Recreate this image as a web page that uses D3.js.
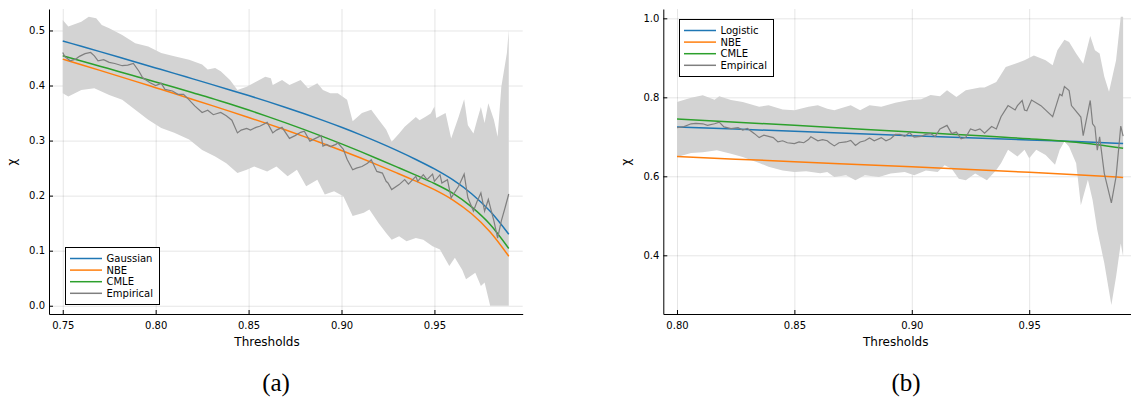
<!DOCTYPE html>
<html>
<head>
<meta charset="utf-8">
<script src="https://cdn.jsdelivr.net/npm/d3@7"></script>
<style>
  body { margin: 0; background: #fff; }
  svg { display: block; font-family: "DejaVu Sans", sans-serif; }
</style>
</head>
<body>
<svg id="chart" width="1131" height="401"></svg>
<script>
// ---- panel (a): Gaussian / NBE / CMLE vs empirical chi ----
const thrA   = [0.75,0.76,0.77,0.78,0.79,0.80,0.81,0.82,0.83,0.84,0.85,0.86,0.87,0.88,0.89,0.90,0.91,0.92,0.93,0.94,0.95,0.96,0.97,0.98,0.99];
const gaussA = [.4810,.4713,.4616,.4518,.4419,.4320,.4221,.4121,.4021,.3920,.3818,.3712,.3602,.3487,.3367,.3241,.3108,.2967,.2817,.2657,.2485,.2285,.2035,.1715,.1300];
const nbeA   = [.4480,.4378,.4275,.4171,.4066,.3960,.3854,.3747,.3639,.3530,.3420,.3308,.3192,.3072,.2948,.2820,.2687,.2549,.2408,.2263,.2110,.1920,.1670,.1340,.0900];
const cmleA  = [.4540,.4446,.4351,.4256,.4160,.4064,.3967,.3869,.3770,.3664,.3554,.3440,.3322,.3199,.3072,.2940,.2803,.2662,.2518,.2372,.2220,.2040,.1795,.1475,.1040];

const empTA = [.750,.751,.754,.757,.759,.762,.765,.767,.769,.772,.775,.778,.782,.785,.788,.791,.793,.797,.800,.803,.805,.809,.812,.815,.818,.821,.825,.828,.831,.835,.838,.841,.844,.846,.849,.851,.854,.856,.860,.863,.865,.868,.872,.875,.878,.880,.883,.886,.889,.890,.892,.894,.897,.898,.901,.903,.906,.908,.911,.914,.916,.919,.922,.924,.925,.927,.931,.934,.936,.940,.941,.944,.946,.949,.950,.953,.954,.957,.959,.963,.966,.968,.971,.973,.975,.977,.979,.982,.984,.986,.988,.990];
const empVA = [.460,.453,.445,.448,.453,.458,.460,.454,.445,.447,.442,.440,.436,.437,.440,.426,.414,.405,.400,.404,.393,.390,.384,.384,.374,.363,.351,.355,.347,.351,.345,.337,.314,.319,.322,.319,.324,.326,.333,.314,.319,.324,.304,.309,.315,.317,.299,.304,.309,.290,.293,.289,.293,.296,.284,.266,.247,.250,.253,.259,.265,.244,.241,.226,.223,.211,.220,.229,.221,.235,.226,.238,.229,.239,.226,.238,.223,.229,.196,.217,.239,.196,.172,.190,.205,.172,.193,.154,.123,.154,.178,.203];

const upTA = [.750,.753,.760,.764,.768,.771,.775,.782,.789,.796,.803,.810,.818,.825,.828,.832,.835,.840,.844,.849,.854,.859,.862,.863,.868,.872,.878,.882,.887,.890,.894,.898,.903,.906,.911,.916,.920,.924,.927,.931,.934,.940,.942,.945,.948,.950,.951,.956,.959,.963,.966,.968,.971,.973,.975,.977,.979,.982,.984,.986,.989,.990];
const upVA = [.519,.507,.516,.525,.522,.510,.504,.492,.477,.471,.459,.453,.447,.438,.429,.432,.426,.410,.392,.398,.407,.416,.413,.401,.410,.401,.410,.395,.404,.392,.386,.386,.374,.335,.350,.356,.338,.320,.298,.313,.325,.343,.337,.343,.349,.362,.341,.350,.304,.343,.375,.328,.313,.338,.361,.332,.368,.338,.307,.398,.459,.501];
const loTA = [.750,.753,.760,.767,.775,.782,.789,.796,.803,.810,.818,.825,.832,.838,.844,.849,.853,.860,.865,.871,.876,.881,.887,.891,.896,.901,.906,.912,.915,.920,.924,.927,.931,.935,.940,.944,.949,.953,.958,.961,.965,.967,.972,.975,.977,.980,.990];
const loVA = [.386,.380,.392,.395,.383,.374,.356,.338,.323,.314,.302,.283,.271,.259,.241,.247,.253,.244,.253,.235,.247,.217,.229,.202,.208,.199,.163,.169,.175,.150,.132,.120,.126,.117,.123,.120,.108,.102,.072,.087,.065,.048,.060,.036,.042,.000,.000];

// ---- panel (b): Logistic / NBE / CMLE vs empirical chi ----
const thrB   = [0.80,0.85,0.90,0.95,0.97,0.99];
const logisB = [.725,.714,.703,.692,.688,.683];
const nbeB   = [.650,.637,.624,.610,.604,.597];
const cmleB  = [.745,.729,.712,.695,.686,.671];

const empTB = [.800,.803,.806,.808,.811,.813,.816,.818,.820,.823,.826,.828,.830,.833,.835,.837,.839,.841,.843,.845,.847,.850,.852,.854,.856,.857,.860,.862,.864,.865,.867,.869,.872,.874,.876,.878,.880,.882,.884,.887,.889,.891,.893,.895,.897,.899,.901,.904,.906,.908,.910,.912,.915,.917,.919,.921,.923,.925,.927,.929,.931,.934,.936,.938,.941,.944,.945,.947,.948,.949,.951,.955,.960,.963,.964,.965,.967,.968,.972,.973,.976,.977,.978,.979,.980,.982,.985,.987,.989,.990];
const empVB = [.723,.726,.733,.734,.733,.729,.733,.737,.725,.721,.723,.717,.721,.708,.698,.704,.701,.698,.687,.690,.685,.683,.687,.685,.693,.700,.690,.693,.690,.685,.677,.685,.687,.691,.678,.687,.690,.697,.690,.698,.690,.695,.706,.706,.701,.711,.699,.701,.706,.708,.701,.720,.729,.708,.712,.695,.699,.720,.716,.720,.709,.726,.720,.751,.779,.768,.779,.792,.768,.766,.793,.779,.751,.808,.804,.827,.817,.779,.750,.703,.792,.733,.725,.666,.700,.607,.533,.599,.727,.702];

const upTB = [.800,.806,.811,.816,.818,.823,.828,.835,.839,.845,.850,.856,.860,.864,.867,.874,.878,.882,.887,.893,.899,.904,.908,.912,.915,.919,.923,.929,.931,.936,.940,.944,.948,.952,.957,.960,.962,.965,.967,.970,.973,.976,.978,.980,.982,.984,.987,.989,.990];
const upVB = [.788,.799,.805,.794,.803,.793,.788,.776,.780,.769,.767,.776,.780,.771,.767,.780,.767,.780,.776,.786,.793,.795,.806,.803,.818,.801,.818,.825,.825,.839,.877,.885,.894,.906,.894,.881,.919,.946,.940,.911,.885,.955,.919,.911,.852,.814,.894,1.004,1.004];
const loTB = [.800,.806,.811,.817,.823,.828,.835,.839,.845,.850,.855,.861,.864,.867,.872,.876,.880,.886,.891,.897,.901,.906,.911,.914,.917,.920,.923,.927,.932,.936,.938,.941,.945,.948,.950,.953,.957,.961,.963,.965,.967,.970,.972,.975,.977,.979,.982,.985,.987,.989,.990];
const loVB = [.649,.659,.661,.666,.657,.649,.634,.624,.615,.611,.613,.608,.611,.598,.603,.590,.603,.598,.607,.611,.603,.615,.611,.628,.619,.594,.590,.607,.590,.616,.633,.667,.650,.667,.646,.667,.654,.629,.667,.688,.675,.633,.527,.591,.540,.464,.380,.274,.346,.430,.397];

const colors = { blue: "#1f77b4", orange: "#ff7f0e", green: "#2ca02c", gray: "#7f7f7f" };

const svg = d3.select("#chart");
svg.append("rect").attr("width", 1131).attr("height", 401).attr("fill", "#fff");

const plotTop = 9, plotBottom = 314;

function drawPanel(p) {
  const x = d3.scaleLinear().domain(p.xDom).range(p.xRange);
  const y = d3.scaleLinear().domain(p.yDom).range([plotBottom, plotTop]);
  const g = svg.append("g");
  const w = p.xRange[1] - p.xRange[0];

  // grid
  g.append("g")
    .attr("transform", `translate(0,${plotBottom})`)
    .call(d3.axisBottom(x).tickValues(p.xTicks).tickSize(-(plotBottom - plotTop)).tickFormat(""))
    .call(s => s.select(".domain").remove())
    .selectAll("line").attr("stroke", "#000").attr("stroke-opacity", 0.1);
  g.append("g")
    .attr("transform", `translate(${p.xRange[0]},0)`)
    .call(d3.axisLeft(y).tickValues(p.yTicks).tickSize(-w).tickFormat(""))
    .call(s => s.select(".domain").remove())
    .selectAll("line").attr("stroke", "#000").attr("stroke-opacity", 0.1);

  // empirical band: upper edge forward, lower edge back
  const band = p.upT.map((t, i) => [t, p.upV[i]])
    .concat(p.loT.map((t, i) => [t, p.loV[i]]).reverse());
  g.append("path")
    .attr("d", d3.line().x(d => x(d[0])).y(d => y(d[1]))(band) + "Z")
    .attr("fill", "#d3d3d3");

  const line = d3.line().x(d => x(d[0])).y(d => y(d[1]));
  const curve = d3.line().x(d => x(d[0])).y(d => y(d[1])).curve(d3.curveMonotoneX);

  p.series.forEach(s => {
    g.append("path")
      .attr("d", curve(p.thr.map((t, i) => [t, s.values[i]])))
      .attr("fill", "none").attr("stroke", s.color).attr("stroke-width", 1.5);
  });
  g.append("path")
    .attr("d", line(p.empT.map((t, i) => [t, p.empV[i]])))
    .attr("fill", "none").attr("stroke", colors.gray).attr("stroke-width", 1.2);

  // axes
  const ax = g.append("g")
    .attr("transform", `translate(0,${plotBottom})`)
    .call(d3.axisBottom(x).tickValues(p.xTicks).tickFormat(d3.format(".2f"))
      .tickSizeInner(-4).tickSizeOuter(0).tickPadding(7.5));
  const ay = g.append("g")
    .attr("transform", `translate(${p.xRange[0]},0)`)
    .call(d3.axisLeft(y).tickValues(p.yTicks).tickFormat(d3.format(".1f"))
      .tickSizeInner(-4).tickSizeOuter(0).tickPadding(4));
  [ax, ay].forEach(a => {
    a.selectAll("text").attr("font-size", 10).attr("font-family", "DejaVu Sans").attr("fill", "#000");
    a.select(".domain").attr("stroke", "#000");
  });

  // axis labels
  g.append("text").attr("x", p.xLabelX).attr("y", 345.5)
    .attr("text-anchor", "middle").attr("font-size", 12).text("Thresholds");
  g.append("text").attr("transform", `translate(${p.yLabelX},162) rotate(-90)`)
    .attr("text-anchor", "middle").attr("font-size", 12).text("χ");

  // legend
  const lg = g.append("g").attr("transform", `translate(${p.legend[0]},${p.legend[1]})`);
  lg.append("rect").attr("x", 0.5).attr("y", 0.5).attr("width", 94).attr("height", 57)
    .attr("fill", "#fff").attr("stroke", "#000").attr("stroke-width", 1);
  const items = p.series.map(s => ({ name: s.name, color: s.color }))
    .concat([{ name: "Empirical", color: colors.gray }]);
  items.forEach((it, i) => {
    const yy = 11.5 + i * 11.6;
    lg.append("line").attr("x1", 5).attr("x2", 37).attr("y1", yy).attr("y2", yy)
      .attr("stroke", it.color).attr("stroke-width", 1.5);
    lg.append("text").attr("x", 41.5).attr("y", yy).attr("dy", "0.35em")
      .attr("font-size", 10).text(it.name);
  });

  // caption
  svg.append("text").attr("x", p.capX).attr("y", 391)
    .attr("text-anchor", "middle")
    .style("font-family", "'Liberation Serif', 'DejaVu Serif', serif")
    .attr("font-size", 25).text(p.caption);
}

drawPanel({
  xDom: [0.7426, 0.9975], xRange: [49, 522.7], yDom: [-0.015, 0.539],
  xTicks: [0.75, 0.80, 0.85, 0.90, 0.95], yTicks: [0, 0.1, 0.2, 0.3, 0.4, 0.5],
  thr: thrA,
  series: [
    { name: "Gaussian", color: colors.blue, values: gaussA },
    { name: "NBE", color: colors.orange, values: nbeA },
    { name: "CMLE", color: colors.green, values: cmleA }
  ],
  empT: empTA, empV: empVA, upT: upTA, upV: upVA, loT: loTA, loV: loVA,
  xLabelX: 267, yLabelX: 15.6, legend: [65, 247], capX: 276, caption: "(a)"
});

drawPanel({
  xDom: [0.79417, 0.99583], xRange: [663.3, 1136.8], yDom: [0.2514, 1.0236],
  xTicks: [0.80, 0.85, 0.90, 0.95], yTicks: [0.4, 0.6, 0.8, 1.0],
  thr: thrB,
  series: [
    { name: "Logistic", color: colors.blue, values: logisB },
    { name: "NBE", color: colors.orange, values: nbeB },
    { name: "CMLE", color: colors.green, values: cmleB }
  ],
  empT: empTB, empV: empVB, upT: upTB, upV: upVB, loT: loTB, loV: loVB,
  xLabelX: 895.7, yLabelX: 630, legend: [679, 19], capX: 906, caption: "(b)"
});
</script>
</body>
</html>
